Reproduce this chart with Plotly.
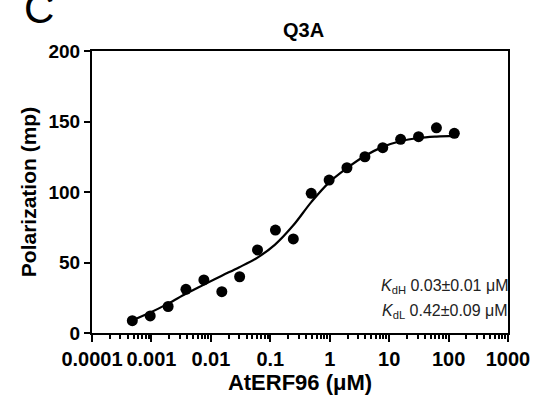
import plotly.graph_objects as go

# AtERF96 concentrations (µM), two-fold dilution series
conc_um = [0.000477, 0.000954, 0.00191, 0.00381, 0.00763, 0.0153, 0.0305,
           0.0610, 0.122, 0.244, 0.488, 0.977, 1.95, 3.91, 7.81, 15.6,
           31.25, 62.5, 125.0]
# measured polarization (mp)
polarization_mp = [8.7, 12.1, 18.8, 31.0, 37.6, 29.3, 39.9, 58.9, 73.0, 66.7,
                   99.1, 108.5, 117.2, 125.0, 131.4, 137.4, 139.2, 145.5, 141.6]

# two-site binding fit curve
fit_conc_um = [0.00048, 0.00096, 0.00194, 0.00385, 0.0078, 0.0150, 0.0296,
               0.061, 0.119, 0.24, 0.493, 0.96, 1.89, 3.89, 7.8, 15.3,
               31.5, 63.0, 125.0]
fit_mp = [9.0, 14.5, 21.0, 28.0, 34.5, 40.5, 46.5, 53.5, 62.5, 76.0, 93.0,
          106.5, 116.5, 125.5, 132.0, 136.0, 138.3, 139.3, 139.8]

x_tickvals = [0.0001, 0.001, 0.01, 0.1, 1, 10, 100, 1000]
x_ticktext = ["0.0001", "0.001", "0.01", "0.1", "1", "10", "100", "1000"]
y_tickvals = [0, 50, 100, 150, 200]

kd_lines = ["<i>K</i><sub>dH</sub> 0.03±0.01 μM",
            "<i>K</i><sub>dL</sub> 0.42±0.09 μM"]

FONT = "Liberation Sans, Arial, sans-serif"

fig = go.Figure()
fig.add_trace(go.Scatter(x=fit_conc_um, y=fit_mp, mode="lines",
                         line=dict(color="black", width=2.2, shape="spline",
                                   smoothing=1.0),
                         hoverinfo="skip", showlegend=False))
fig.add_trace(go.Scatter(x=conc_um, y=polarization_mp, mode="markers",
                         marker=dict(color="black", size=11, line=dict(width=0)),
                         showlegend=False))

fig.update_layout(
    width=542, height=402,
    margin=dict(l=92, r=26, t=51, b=69),
    paper_bgcolor="white", plot_bgcolor="white",
    font=dict(family=FONT, color="black"),
    title=dict(text="<b>Q3A</b>", x=0.56, xanchor="center",
               y=1 - 30 / 402, yanchor="middle",
               font=dict(size=20, family=FONT, color="black")),
    xaxis=dict(
        type="log", range=[-4, 3],
        tickmode="array", tickvals=x_tickvals, ticktext=x_ticktext,
        ticks="outside", ticklen=7, tickwidth=2, tickcolor="black",
        showline=True, linecolor="black", linewidth=2, mirror=True,
        showgrid=False, zeroline=False,
        tickfont=dict(size=20, family=FONT, color="black", weight="bold"),
        # 2..9 minor ticks within each decade
        minor=dict(dtick="D1", ticks="outside", ticklen=4, tickwidth=1.5,
                   tickcolor="black", showgrid=False),
        title=dict(text="<b>AtERF96 (μM)</b>", standoff=5,
                   font=dict(size=22, family=FONT, color="black")),
    ),
    yaxis=dict(
        range=[0, 200], tickvals=y_tickvals,
        ticks="outside", ticklen=6, tickwidth=2, tickcolor="black",
        showline=True, linecolor="black", linewidth=2, mirror=True,
        showgrid=False, zeroline=False,
        tickfont=dict(size=19, family=FONT, color="black", weight="bold"),
        title=dict(text="<b>Polarization (mp)</b>", standoff=6,
                   font=dict(size=21, family=FONT, color="black")),
    ),
)

# panel letter
fig.add_annotation(text="C", xref="paper", yref="paper",
                   x=-92 / 424 + 21 / 424, xanchor="left",
                   y=1 + 51 / 282 - 9 / 282, yanchor="middle",
                   showarrow=False,
                   font=dict(size=42, family=FONT, color="black"))

# dissociation constants
for i, txt in enumerate(kd_lines):
    fig.add_annotation(text=txt, xref="paper", yref="paper",
                       x=1 + 2 / 424, xanchor="right",
                       y=(333 - 286 - 25 * i) / 282, yanchor="middle",
                       showarrow=False, align="right",
                       font=dict(size=16, family=FONT, color="#222222"))

fig.write_html("out.html")
